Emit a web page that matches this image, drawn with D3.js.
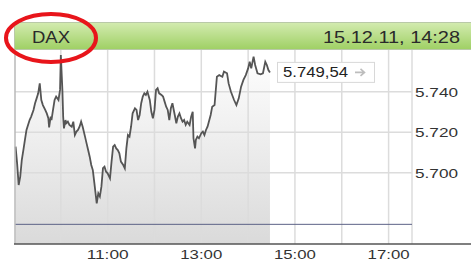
<!DOCTYPE html>
<html>
<head>
<meta charset="utf-8">
<script src="https://cdn.jsdelivr.net/npm/d3@7"></script>
<style>
  html, body { margin: 0; padding: 0; background: #fff; }
  svg { display: block; font-family: "Liberation Sans", Arial, sans-serif; }
</style>
</head>
<body>
<svg id="chart" width="471" height="263"></svg>
<script>
const title = 'DAX';
const stamp = '15.12.11, 14:28';
const lastLabel = '5.749,54';

const times = [
  '09:02','09:04','09:06','09:08','09:10','09:12','09:14','09:16','09:18','09:20','09:22',
  '09:25','09:27','09:29','09:31','09:33','09:35','09:37','09:40','09:42','09:44','09:45',
  '09:47','09:48','09:50','09:52','09:54','09:57','09:59',
  '10:00','10:02','10:03','10:04','10:06','10:07','10:09','10:11','10:14','10:16','10:18',
  '10:20','10:22','10:24','10:26','10:28','10:31','10:33','10:35','10:37','10:39','10:41',
  '10:43','10:46','10:48','10:50','10:52','10:54','10:56','10:58',
  '11:00','11:03','11:05','11:07','11:09','11:11','11:13','11:15','11:17','11:20','11:22',
  '11:24','11:26','11:28','11:30','11:32','11:35','11:37','11:39','11:41','11:43','11:45',
  '11:47','11:49','11:51','11:54','11:56','11:58',
  '12:00','12:02','12:04','12:06','12:09','12:11','12:13','12:15','12:17','12:19','12:21',
  '12:23','12:26','12:28','12:30','12:32','12:34','12:36','12:38','12:40','12:42','12:45',
  '12:47','12:49','12:50','12:52','12:53','12:55','12:57',
  '13:00','13:02','13:04','13:06','13:08','13:12','13:14','13:17','13:20','13:23','13:27',
  '13:29','13:33','13:35','13:38','13:42','13:45','13:48','13:51','13:54','13:57',
  '14:00','14:02','14:04','14:07','14:09','14:12','14:16','14:19','14:22','14:24','14:26','14:28'
];

const prices = [
  5712.9, 5704.6, 5693.9, 5698.1, 5706.3, 5711.2, 5716.2, 5721.1, 5723.6, 5726.0,
  5727.7, 5731.0, 5734.3, 5736.7, 5739.2, 5744.1, 5735.9, 5733.4, 5731.0, 5729.3,
  5726.9, 5722.4, 5727.7, 5726.0, 5731.0, 5735.9, 5737.6, 5735.9, 5740.9, 5758.1,
  5740.9, 5727.7, 5721.9, 5726.0, 5724.4, 5725.2, 5723.6, 5722.7, 5725.2, 5718.6,
  5720.3, 5721.1, 5722.7, 5725.2, 5722.7, 5717.8, 5714.5, 5711.2, 5707.9, 5703.8,
  5701.3, 5694.8, 5684.9, 5689.8, 5688.2, 5693.1, 5702.2, 5703.0, 5700.5, 5699.7,
  5697.2, 5705.5, 5712.9, 5713.7, 5712.0, 5711.2, 5709.6, 5705.5, 5703.8, 5702.2,
  5712.0, 5718.6, 5717.8, 5722.7, 5729.3, 5731.8, 5731.0, 5726.0, 5728.5, 5734.3,
  5737.6, 5739.2, 5738.4, 5740.0, 5735.9, 5730.1, 5726.9, 5731.0, 5740.9, 5741.7,
  5739.2, 5738.4, 5737.6, 5735.1, 5732.6, 5731.0, 5726.0, 5731.8, 5734.3, 5728.5,
  5724.4, 5727.7, 5729.3, 5726.9, 5725.2, 5726.0, 5723.6, 5725.2, 5723.6, 5727.7,
  5730.1, 5717.0, 5712.0, 5716.2, 5717.8, 5717.0, 5719.5, 5720.3, 5718.6, 5721.1,
  5722.7, 5728.5, 5732.6, 5733.4, 5747.4, 5748.2, 5747.4, 5749.9, 5749.1, 5744.1,
  5740.0, 5735.9, 5733.4, 5736.7, 5742.5, 5745.8, 5748.2, 5751.5, 5754.8, 5751.5,
  5757.3, 5753.2, 5749.1, 5748.6, 5749.1, 5754.8, 5753.2, 5750.7, 5749.54
];

const refLevel = 5674.5;
const yTicks = [5700, 5720, 5740];
const xTicks = ['11:00', '13:00', '15:00', '17:00'];
const gridHours = ['10:00','11:00','12:00','13:00','14:00','15:00','16:00','17:00','17:30'];

const parse = d3.timeParse('%H:%M');
const data = times.map((t, i) => ({ t: parse(t), v: prices[i] }));

const svg = d3.select('#chart');
const plotTop = 50, plotBottom = 244, plotLeft = 15, plotRight = 412;

const x = d3.scaleTime().domain([parse('09:00'), parse('17:30')]).range([14, plotRight]);
const y = d3.scaleLinear().domain([5700, 5740]).range([172.7, 91.7]);

const defs = svg.append('defs');
const hg = defs.append('linearGradient').attr('id', 'hdr').attr('x1', 0).attr('y1', 0).attr('x2', 0).attr('y2', 1);
hg.append('stop').attr('offset', '0%').attr('stop-color', '#d3ebb0');
hg.append('stop').attr('offset', '100%').attr('stop-color', '#9fd064');
const ag = defs.append('linearGradient').attr('id', 'area').attr('gradientUnits', 'userSpaceOnUse')
  .attr('x1', 0).attr('y1', plotTop).attr('x2', 0).attr('y2', plotBottom);
ag.append('stop').attr('offset', '0%').attr('stop-color', '#ffffff');
ag.append('stop').attr('offset', '100%').attr('stop-color', '#dadada');

// area under the curve
svg.append('path').datum(data)
  .attr('fill', 'url(#area)')
  .attr('d', d3.area().x(d => x(d.t)).y0(plotBottom).y1(d => y(d.v)));

// grid
svg.append('g').selectAll('line').data(gridHours).enter().append('line')
  .attr('x1', d => x(parse(d))).attr('x2', d => x(parse(d)))
  .attr('y1', plotTop).attr('y2', plotBottom)
  .attr('stroke', '#dcdcdc').attr('stroke-width', 1.5);
svg.append('g').selectAll('line').data(yTicks).enter().append('line')
  .attr('x1', plotLeft).attr('x2', plotRight)
  .attr('y1', d => y(d)).attr('y2', d => y(d))
  .attr('stroke', '#dcdcdc').attr('stroke-width', 1.5);

// reference line
svg.append('line').attr('x1', plotLeft).attr('x2', plotRight)
  .attr('y1', y(refLevel)).attr('y2', y(refLevel))
  .attr('stroke', '#5c6286').attr('stroke-width', 1);

// price line
svg.append('path').datum(data)
  .attr('fill', 'none').attr('stroke', '#555').attr('stroke-width', 1.8)
  .attr('stroke-linejoin', 'miter')
  .attr('d', d3.line().x(d => x(d.t)).y(d => y(d.v)));

// axes
svg.append('line').attr('x1', plotLeft).attr('x2', plotLeft).attr('y1', plotTop).attr('y2', plotBottom)
  .attr('stroke', '#b8b8b8').attr('stroke-width', 1.5);
svg.append('line').attr('x1', 14).attr('x2', 471).attr('y1', plotBottom).attr('y2', plotBottom)
  .attr('stroke', '#555').attr('stroke-width', 1.5);

const fmt = d3.formatLocale({ decimal: ',', thousands: '.', grouping: [3], currency: ['', ''] }).format(',.0f');
svg.append('g').selectAll('text').data(yTicks).enter().append('text')
  .attr('x', 415).attr('y', d => y(d) + 5)
  .attr('font-size', 13).attr('fill', '#333')
  .attr('textLength', 43).attr('lengthAdjust', 'spacingAndGlyphs')
  .text(d => fmt(d));

svg.append('g').selectAll('text').data(xTicks).enter().append('text')
  .attr('x', d => x(parse(d)) - 21).attr('y', 259)
  .attr('font-size', 13).attr('fill', '#333')
  .attr('textLength', 42).attr('lengthAdjust', 'spacingAndGlyphs')
  .text(d => d);

// last value box
const lastY = y(prices[prices.length - 1]);
svg.append('rect').attr('x', 277.5).attr('y', lastY - 10).attr('width', 97).attr('height', 20)
  .attr('fill', '#fff').attr('stroke', '#d8d8d8');
svg.append('text').attr('x', 283).attr('y', lastY + 5)
  .attr('font-size', 14).attr('fill', '#222')
  .attr('textLength', 65).attr('lengthAdjust', 'spacingAndGlyphs')
  .text(lastLabel);
svg.append('path')
  .attr('d', `M355,${lastY} L364,${lastY} M360.5,${lastY - 3.5} L364.5,${lastY} L360.5,${lastY + 3.5}`)
  .attr('fill', 'none').attr('stroke', '#bdbdbd').attr('stroke-width', 1.6);

// header bar
svg.append('rect').attr('x', 14.5).attr('y', 22.5).attr('width', 460).attr('height', 27)
  .attr('fill', 'url(#hdr)').attr('stroke', '#b9c9a8');
svg.append('text').attr('x', 32).attr('y', 43).attr('font-size', 16).attr('fill', '#2a2a2a')
  .attr('textLength', 38).attr('lengthAdjust', 'spacingAndGlyphs').text(title);
svg.append('text').attr('x', 323).attr('y', 43).attr('font-size', 16).attr('fill', '#2a2a2a')
  .attr('textLength', 137).attr('lengthAdjust', 'spacingAndGlyphs').text(stamp);

// red marker ellipse
svg.append('ellipse').attr('cx', 51).attr('cy', 38).attr('rx', 45).attr('ry', 24)
  .attr('fill', 'none').attr('stroke', '#e8151b').attr('stroke-width', 4);
</script>
</body>
</html>
